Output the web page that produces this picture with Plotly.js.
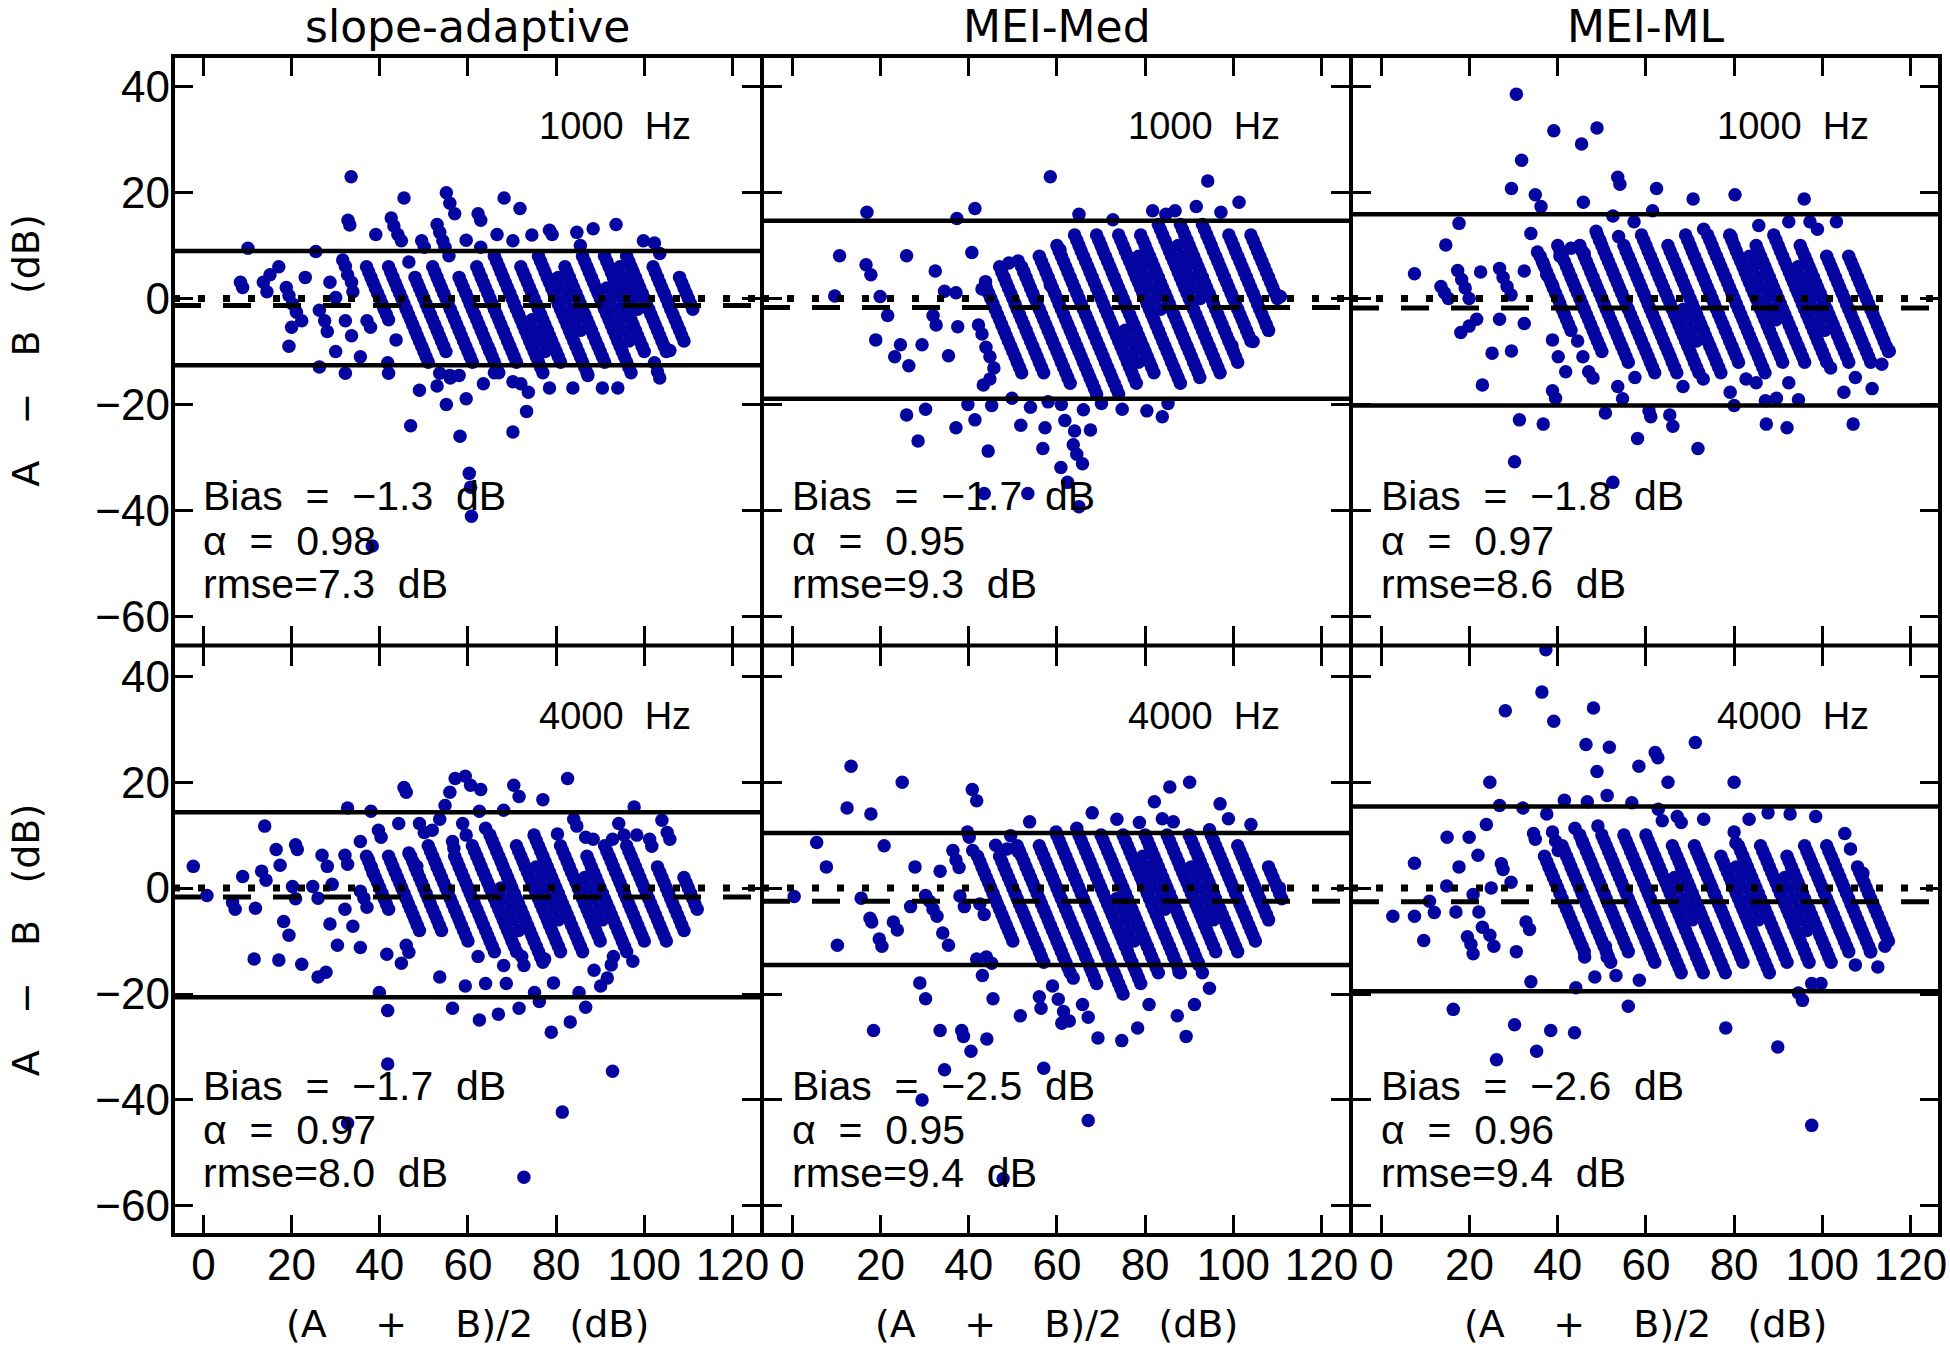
<!DOCTYPE html>
<html><head><meta charset="utf-8">
<script src="https://cdn.plot.ly/plotly-3.0.1.min.js"></script>
<style>html,body{margin:0;padding:0;background:#fff}</style>
</head><body><div id="chart" style="width:1950px;height:1351px"></div>
<script>
const methods = ['slope-adaptive', 'MEI-Med', 'MEI-ML'];
const freqs = ['1000 Hz', '1000 Hz', '1000 Hz', '4000 Hz', '4000 Hz', '4000 Hz'];
const biasVals = [-1.3, -1.7, -1.8, -1.7, -2.5, -2.6];
const alphaVals = [0.98, 0.95, 0.97, 0.97, 0.95, 0.96];
const rmseVals = [7.3, 9.3, 8.6, 8.0, 9.4, 9.4];
const upperLoA = [9.0, 14.7, 15.9, 14.3, 10.4, 15.4];
const lowerLoA = [-12.6, -18.9, -20.2, -20.6, -14.5, -19.5];
const xTicks = [0, 20, 40, 60, 80, 100, 120];
const yTicks = [-60, -40, -20, 0, 20, 40];

// points: [(A+B)/2, A-B]
const slope1000Core = [
[37,6],[38,4],[39,2],[40,0],[41,-2],[42,-4],
[42,6],[43,4],[44,2],[45,0],[46,-2],[47,-4],[48,-6],[49,-8],[50,-10],[51,-12],
[48,4],[49,2],[50,0],[51,-2],[52,-4],[53,-6],[54,-8],[55,-10],
[52,6],[53,4],[54,2],[55,0],[56,-2],[57,-4],[58,-6],[59,-8],[60,-10],[61,-12],
[58,4],[59,2],[60,0],[61,-2],[62,-4],[63,-6],[64,-8],[65,-10],[66,-12],[67,-14],
[62,6],[63,4],[64,2],[65,0],[66,-2],[67,-4],[68,-6],[69,-8],[70,-10],[71,-12],
[66,8],[67,6],[68,4],[69,2],[70,0],[71,-2],[72,-4],[73,-6],[74,-8],[75,-10],[76,-12],[77,-14],
[72,6],[73,4],[74,2],[75,0],[76,-2],[77,-4],[78,-6],[79,-8],[80,-10],[81,-12],
[76,8],[77,6],[78,4],[79,2],[80,0],[81,-2],[82,-4],[83,-6],[84,-8],[85,-10],[86,-12],[87,-14],
[82,6],[83,4],[84,2],[85,0],[86,-2],[87,-4],[88,-6],[89,-8],[90,-10],[91,-12],
[86,8],[87,6],[88,4],[89,2],[90,0],[91,-2],[92,-4],[93,-6],[94,-8],[95,-10],[96,-12],[97,-14],
[91,8],[92,6],[93,4],[94,2],[95,0],[96,-2],[97,-4],[98,-6],[99,-8],[100,-10],
[96,8],[97,6],[98,4],[99,2],[100,0],[101,-2],[102,-4],[103,-6],[104,-8],[105,-10],
[102,6],[103,4],[104,2],[105,0],[106,-2],[107,-4],[108,-6],[109,-8],
[108,4],[109,2],[110,0],[111,-2]
];
const slope1000CoreOdd = [
[37.5,5],[38.5,3],[39.5,1],[40.5,-1],[41.5,-3],
[42.5,5],[43.5,3],[44.5,1],[45.5,-1],[46.5,-3],[47.5,-5],[48.5,-7],[49.5,-9],[50.5,-11],
[48.5,3],[49.5,1],[50.5,-1],[51.5,-3],[52.5,-5],[53.5,-7],[54.5,-9],
[52.5,5],[53.5,3],[54.5,1],[55.5,-1],[56.5,-3],[57.5,-5],[58.5,-7],[59.5,-9],[60.5,-11],
[58.5,3],[59.5,1],[60.5,-1],[61.5,-3],[62.5,-5],[63.5,-7],[64.5,-9],[65.5,-11],[66.5,-13],
[62.5,5],[63.5,3],[64.5,1],[65.5,-1],[66.5,-3],[67.5,-5],[68.5,-7],[69.5,-9],[70.5,-11],
[66.5,7],[67.5,5],[68.5,3],[69.5,1],[70.5,-1],[71.5,-3],[72.5,-5],[73.5,-7],[74.5,-9],[75.5,-11],[76.5,-13],
[72.5,5],[73.5,3],[74.5,1],[75.5,-1],[76.5,-3],[77.5,-5],[78.5,-7],[79.5,-9],[80.5,-11],
[76.5,7],[77.5,5],[78.5,3],[79.5,1],[80.5,-1],[81.5,-3],[82.5,-5],[83.5,-7],[84.5,-9],[85.5,-11],[86.5,-13],
[82.5,5],[83.5,3],[84.5,1],[85.5,-1],[86.5,-3],[87.5,-5],[88.5,-7],[89.5,-9],[90.5,-11],
[86.5,7],[87.5,5],[88.5,3],[89.5,1],[90.5,-1],[91.5,-3],[92.5,-5],[93.5,-7],[94.5,-9],[95.5,-11],[96.5,-13],
[91.5,7],[92.5,5],[93.5,3],[94.5,1],[95.5,-1],[96.5,-3],[97.5,-5],[98.5,-7],[99.5,-9],
[96.5,7],[97.5,5],[98.5,3],[99.5,1],[100.5,-1],[101.5,-3],[102.5,-5],[103.5,-7],[104.5,-9],
[102.5,5],[103.5,3],[104.5,1],[105.5,-1],[106.5,-3],[107.5,-5],[108.5,-7],
[108.5,3],[109.5,1],[110.5,-1],
[80.5,4],[81.5,2],[82.5,0],[83.5,-2],[84.5,-4],[85.5,-6],
[91.5,2],[92.5,0],[93.5,-2],[94.5,-4],[95.5,-6],[96.5,-8],
[94.5,6],[95.5,4],[96.5,2],[97.5,0],[98.5,-2],
[74.5,-4],[75.5,-6],[76.5,-8],[77.5,-10]
];
const slope1000Spread = [
[33.5,23],[32.8,14.8],[33.2,13.9],[45.5,19],[55.1,20],[55.9,18],[57,16],[68.2,19],[71.8,17],[10.1,9.5],
[8.4,3.1],[8.9,2.1],[13.6,3.1],[14.4,1.3],[15.1,4.5],[17.1,6],[18.8,2.1],[19.4,0.6],[20.2,-1],[21.1,-2.6],
[22.3,-4.2],[20,-5.4],[19.4,-9],[23.1,4],[25.5,8.9],[26.3,-2.2],[27.5,-4.2],[28.1,-6.2],[28.7,3.1],[30,0.2],
[31.6,7.3],[32.2,6.1],[32.7,4.5],[33.6,3.1],[33.9,1.3],[32.2,-4.2],[33.6,-7],[30,-10],[26.3,-12.9],[32.2,-14.1],
[35.6,-11],[39.1,12.1],[37.1,-4.2],[37.9,-5.4],[42.6,15.2],[43.2,13.7],[44.1,12.1],[44.9,10.9],[46.6,6.9],[43.7,-7.8],
[42,-14.1],[41.8,-12.1],[49,-17.3],[47,-24],[49.5,10.9],[50.1,9.7],[53,14],[53.6,12.5],[54.3,10.9],[54.8,9.7],
[55.7,8.1],[53,-16.5],[55.1,-20],[58.2,-26],[59.6,-18.9],[60.3,-33],[60.6,-35.6],[60.8,-41.1],[38.3,-46.7],[59.6,11],
[62.3,16],[62.9,14.8],[62.9,9.7],[63.5,-16.1],[64.9,-9.8],[66.6,12.1],[70.2,-25.2],[73.3,-21.3],[70.2,-15.7],[72,-16.1],
[73.7,-17.7],[70.2,10.9],[74.5,12],[78.5,12.9],[79.1,12.1],[84.7,12.5],[85.5,10],[88.4,13.2],[93.6,14],[78.5,-16.9],
[83.8,-16.9],[87.2,-14.5],[90.5,-16.9],[94,-16.9],[99.8,10.9],[102.3,10.5],[103.5,8.5],[102.3,-12.1],[103,-13.8],[103.5,-15],
[105.8,-9.8],[56,-15],[58,-14.5],[66,-14],[53.6,-14.1],[55.9,-14.5]
];

const med1000Core = [
[44,2],[45,0],[46,-2],[47,-4],[48,-6],[49,-8],[50,-10],[51,-12],[52,-14],
[47,6],[48,4],[49,2],[50,0],[51,-2],[52,-4],[53,-6],[54,-8],[55,-10],[56,-12],[57,-14],
[52,6],[53,4],[54,2],[55,0],[56,-2],[57,-4],[58,-6],[59,-8],[60,-10],[61,-12],[62,-14],[63,-16],
[56,8],[57,6],[58,4],[59,2],[60,0],[61,-2],[62,-4],[63,-6],[64,-8],[65,-10],[66,-12],[67,-14],[68,-16],[69,-18],
[60,10],[61,8],[62,6],[63,4],[64,2],[65,0],[66,-2],[67,-4],[68,-6],[69,-8],[70,-10],[71,-12],[72,-14],[73,-16],[74,-18],
[64,12],[65,10],[66,8],[67,6],[68,4],[69,2],[70,0],[71,-2],[72,-4],[73,-6],[74,-8],[75,-10],[76,-12],[77,-14],[78,-16],
[69,12],[70,10],[71,8],[72,6],[73,4],[74,2],[75,0],[76,-2],[77,-4],[78,-6],[79,-8],[80,-10],[81,-12],[82,-14],
[74,12],[75,10],[76,8],[77,6],[78,4],[79,2],[80,0],[81,-2],[82,-4],[83,-6],[84,-8],[85,-10],[86,-12],[87,-14],[88,-16],
[79,12],[80,10],[81,8],[82,6],[83,4],[84,2],[85,0],[86,-2],[87,-4],[88,-6],[89,-8],[90,-10],[91,-12],[92,-14],
[83,14],[84,12],[85,10],[86,8],[87,6],[88,4],[89,2],[90,0],[91,-2],[92,-4],[93,-6],[94,-8],[95,-10],[96,-12],[97,-14],
[88,14],[89,12],[90,10],[91,8],[92,6],[93,4],[94,2],[95,0],[96,-2],[97,-4],[98,-6],[99,-8],[100,-10],[101,-12],
[93,14],[94,12],[95,10],[96,8],[97,6],[98,4],[99,2],[100,0],[101,-2],[102,-4],[103,-6],[104,-8],
[99,12],[100,10],[101,8],[102,6],[103,4],[104,2],[105,0],[106,-2],[107,-4],[108,-6],
[104,12],[105,10],[106,8],[107,6],[108,4],[109,2],[110,0]
];
const med1000CoreOdd = [
[44.5,1],[45.5,-1],[46.5,-3],[47.5,-5],[48.5,-7],[49.5,-9],[50.5,-11],[51.5,-13],
[47.5,5],[48.5,3],[49.5,1],[50.5,-1],[51.5,-3],[52.5,-5],[53.5,-7],[54.5,-9],[55.5,-11],[56.5,-13],
[52.5,5],[53.5,3],[54.5,1],[55.5,-1],[56.5,-3],[57.5,-5],[58.5,-7],[59.5,-9],[60.5,-11],[61.5,-13],[62.5,-15],
[56.5,7],[57.5,5],[58.5,3],[59.5,1],[60.5,-1],[61.5,-3],[62.5,-5],[63.5,-7],[64.5,-9],[65.5,-11],[66.5,-13],[67.5,-15],[68.5,-17],
[60.5,9],[61.5,7],[62.5,5],[63.5,3],[64.5,1],[65.5,-1],[66.5,-3],[67.5,-5],[68.5,-7],[69.5,-9],[70.5,-11],[71.5,-13],[72.5,-15],[73.5,-17],
[64.5,11],[65.5,9],[66.5,7],[67.5,5],[68.5,3],[69.5,1],[70.5,-1],[71.5,-3],[72.5,-5],[73.5,-7],[74.5,-9],[75.5,-11],[76.5,-13],[77.5,-15],
[69.5,11],[70.5,9],[71.5,7],[72.5,5],[73.5,3],[74.5,1],[75.5,-1],[76.5,-3],[77.5,-5],[78.5,-7],[79.5,-9],[80.5,-11],[81.5,-13],
[74.5,11],[75.5,9],[76.5,7],[77.5,5],[78.5,3],[79.5,1],[80.5,-1],[81.5,-3],[82.5,-5],[83.5,-7],[84.5,-9],[85.5,-11],[86.5,-13],[87.5,-15],
[79.5,11],[80.5,9],[81.5,7],[82.5,5],[83.5,3],[84.5,1],[85.5,-1],[86.5,-3],[87.5,-5],[88.5,-7],[89.5,-9],[90.5,-11],[91.5,-13],
[83.5,13],[84.5,11],[85.5,9],[86.5,7],[87.5,5],[88.5,3],[89.5,1],[90.5,-1],[91.5,-3],[92.5,-5],[93.5,-7],[94.5,-9],[95.5,-11],[96.5,-13],
[88.5,13],[89.5,11],[90.5,9],[91.5,7],[92.5,5],[93.5,3],[94.5,1],[95.5,-1],[96.5,-3],[97.5,-5],[98.5,-7],[99.5,-9],[100.5,-11],
[93.5,13],[94.5,11],[95.5,9],[96.5,7],[97.5,5],[98.5,3],[99.5,1],[100.5,-1],[101.5,-3],[102.5,-5],[103.5,-7],
[99.5,11],[100.5,9],[101.5,7],[102.5,5],[103.5,3],[104.5,1],[105.5,-1],[106.5,-3],[107.5,-5],
[104.5,11],[105.5,9],[106.5,7],[107.5,5],[108.5,3],[109.5,1],
[78.5,8],[79.5,6],[80.5,4],[81.5,2],[82.5,0],[83.5,-2],
[87.5,10],[88.5,8],[89.5,6],[90.5,4],[91.5,2],[92.5,0],
[75.5,-6],[76.5,-8],[77.5,-10],[78.5,-12]
];
const med1000Spread = [
[16.9,16.3],[10.7,8.1],[9.6,0.5],[16.7,6.4],[17.8,4.5],[19.9,0.4],[21.6,-3.2],[18.9,-7.8],[25.9,8.1],[23.2,-11],
[24.5,-8.7],[26.4,-12.7],[29.4,-8.7],[32.4,5.2],[31.9,-3.2],[32.6,-5],[35.4,-10.8],[34.5,1.4],[37.1,1.1],[37.3,15.1],
[41.4,17],[40.7,8.7],[37.5,-5.3],[25.9,-22],[30.2,-20.9],[28.5,-26.9],[37.1,-24.4],[39.8,-20],[41.4,-22.9],[44.4,-28.8],
[43.8,3.2],[43,1.8],[42.2,-5],[43,-6.7],[43.9,-9.2],[44.8,-11],[43.3,-16.3],[44.8,-15.2],[45.7,-13.1],[45.2,-20.2],
[49.1,6.7],[51.2,7.1],[52.5,5],[49.8,-18.8],[51.8,-23.9],[56.8,-28.3],[57.3,-24.4],[58.5,23],[58.5,2.5],[60.9,-31.9],
[62.4,-34.7],[63.7,-27.6],[64.5,-29.4],[65.8,-31.2],[65,-39.3],[61.8,-23],[43.5,-36.8],[53.4,-36.8],[60.7,9.2],[65,15.9],
[72.7,14.9],[81.7,16.6],[84.7,15.9],[86.8,16.6],[91.6,17.4],[94.2,22.2],[97.2,16.3],[101.3,18.2],[80.4,-21.2],[83.9,-22.3],
[85.2,-19.8],[74.8,-20.9],[70.1,-19.8],[67.6,-24.8],[92.4,-14.9],[99.7,-8.9],[104.5,-8.1],[107.5,-5],[110.7,0.4],[61,-20],
[66,-21],[58,-19.5],[54,-20.5],[64,-25]
];

const ml1000Core = [
[36,8],[37,6],[38,4],[39,2],[40,0],[41,-2],[42,-4],[43,-6],
[40,10],[41,8],[42,6],[43,4],[44,2],[45,0],[46,-2],[47,-4],[48,-6],[49,-8],[50,-10],
[45,10],[46,8],[47,6],[48,4],[49,2],[50,0],[51,-2],[52,-4],[53,-6],[54,-8],[55,-10],[56,-12],
[49,12],[50,10],[51,8],[52,6],[53,4],[54,2],[55,0],[56,-2],[57,-4],[58,-6],[59,-8],[60,-10],[61,-12],[62,-14],
[55,10],[56,8],[57,6],[58,4],[59,2],[60,0],[61,-2],[62,-4],[63,-6],[64,-8],[65,-10],[66,-12],[67,-14],
[59,12],[60,10],[61,8],[62,6],[63,4],[64,2],[65,0],[66,-2],[67,-4],[68,-6],[69,-8],[70,-10],[71,-12],[72,-14],
[65,10],[66,8],[67,6],[68,4],[69,2],[70,0],[71,-2],[72,-4],[73,-6],[74,-8],[75,-10],[76,-12],[77,-14],
[69,12],[70,10],[71,8],[72,6],[73,4],[74,2],[75,0],[76,-2],[77,-4],[78,-6],[79,-8],[80,-10],[81,-12],
[74,12],[75,10],[76,8],[77,6],[78,4],[79,2],[80,0],[81,-2],[82,-4],[83,-6],[84,-8],[85,-10],[86,-12],[87,-14],
[79,12],[80,10],[81,8],[82,6],[83,4],[84,2],[85,0],[86,-2],[87,-4],[88,-6],[89,-8],[90,-10],[91,-12],
[85,10],[86,8],[87,6],[88,4],[89,2],[90,0],[91,-2],[92,-4],[93,-6],[94,-8],[95,-10],[96,-12],
[89,12],[90,10],[91,8],[92,6],[93,4],[94,2],[95,0],[96,-2],[97,-4],[98,-6],[99,-8],[100,-10],[101,-12],
[95,10],[96,8],[97,6],[98,4],[99,2],[100,0],[101,-2],[102,-4],[103,-6],[104,-8],[105,-10],[106,-12],
[101,8],[102,6],[103,4],[104,2],[105,0],[106,-2],[107,-4],[108,-6],[109,-8],[110,-10],[111,-12],
[106,8],[107,6],[108,4],[109,2],[110,0],[111,-2],[112,-4],[113,-6],[114,-8],[115,-10]
];
const ml1000CoreOdd = [
[36.5,7],[37.5,5],[38.5,3],[39.5,1],[40.5,-1],[41.5,-3],[42.5,-5],
[40.5,9],[41.5,7],[42.5,5],[43.5,3],[44.5,1],[45.5,-1],[46.5,-3],[47.5,-5],[48.5,-7],[49.5,-9],
[45.5,9],[46.5,7],[47.5,5],[48.5,3],[49.5,1],[50.5,-1],[51.5,-3],[52.5,-5],[53.5,-7],[54.5,-9],[55.5,-11],
[49.5,11],[50.5,9],[51.5,7],[52.5,5],[53.5,3],[54.5,1],[55.5,-1],[56.5,-3],[57.5,-5],[58.5,-7],[59.5,-9],[60.5,-11],[61.5,-13],
[55.5,9],[56.5,7],[57.5,5],[58.5,3],[59.5,1],[60.5,-1],[61.5,-3],[62.5,-5],[63.5,-7],[64.5,-9],[65.5,-11],[66.5,-13],
[59.5,11],[60.5,9],[61.5,7],[62.5,5],[63.5,3],[64.5,1],[65.5,-1],[66.5,-3],[67.5,-5],[68.5,-7],[69.5,-9],[70.5,-11],[71.5,-13],
[65.5,9],[66.5,7],[67.5,5],[68.5,3],[69.5,1],[70.5,-1],[71.5,-3],[72.5,-5],[73.5,-7],[74.5,-9],[75.5,-11],[76.5,-13],
[69.5,11],[70.5,9],[71.5,7],[72.5,5],[73.5,3],[74.5,1],[75.5,-1],[76.5,-3],[77.5,-5],[78.5,-7],[79.5,-9],[80.5,-11],
[74.5,11],[75.5,9],[76.5,7],[77.5,5],[78.5,3],[79.5,1],[80.5,-1],[81.5,-3],[82.5,-5],[83.5,-7],[84.5,-9],[85.5,-11],[86.5,-13],
[79.5,11],[80.5,9],[81.5,7],[82.5,5],[83.5,3],[84.5,1],[85.5,-1],[86.5,-3],[87.5,-5],[88.5,-7],[89.5,-9],[90.5,-11],
[85.5,9],[86.5,7],[87.5,5],[88.5,3],[89.5,1],[90.5,-1],[91.5,-3],[92.5,-5],[93.5,-7],[94.5,-9],[95.5,-11],
[89.5,11],[90.5,9],[91.5,7],[92.5,5],[93.5,3],[94.5,1],[95.5,-1],[96.5,-3],[97.5,-5],[98.5,-7],[99.5,-9],[100.5,-11],
[95.5,9],[96.5,7],[97.5,5],[98.5,3],[99.5,1],[100.5,-1],[101.5,-3],[102.5,-5],[103.5,-7],[104.5,-9],[105.5,-11],
[101.5,7],[102.5,5],[103.5,3],[104.5,1],[105.5,-1],[106.5,-3],[107.5,-5],[108.5,-7],[109.5,-9],[110.5,-11],
[106.5,7],[107.5,5],[108.5,3],[109.5,1],[110.5,-1],[111.5,-3],[112.5,-5],[113.5,-7],[114.5,-9],
[83.5,8],[84.5,6],[85.5,4],[86.5,2],[87.5,0],[88.5,-2],[89.5,-4],
[94.5,6],[95.5,4],[96.5,2],[97.5,0],[98.5,-2],[99.5,-4],[100.5,-6],
[68.5,-2],[69.5,-4],[70.5,-6],[71.5,-8]
];
const ml1000Spread = [
[30.6,38.6],[39.1,31.7],[48.9,32.2],[45.4,29.2],[31.8,26.1],[29.5,20.8],[34.9,19.6],[36.2,17.4],[45.8,18.2],[53.6,22.9],
[54.1,21.6],[62.4,20.8],[70.7,18.8],[80.2,19.6],[95.9,18.8],[17.6,14.2],[7.5,4.7],[14.6,10.1],[13.5,2.3],[14.3,1.1],
[15.2,0],[17.3,5.3],[18.2,3.6],[19,2],[19.9,0],[18,-6.4],[19.9,-5.2],[21.6,-3.9],[22.5,5],[25.1,-10.3],
[22.9,-16.3],[26.8,5.7],[27.6,4],[28.5,2.3],[29.4,0.7],[26.8,-3.9],[29.5,-9.9],[32.4,5.2],[32.4,-4.7],[33.9,12.3],
[35.4,8.8],[36.7,6.7],[37.5,4.5],[38.8,2.5],[31.3,-22.9],[36.7,-23.7],[30.2,-30.8],[38.8,-17.4],[39.5,-18.8],[38.8,-7.8],
[40.1,-11],[41.8,-13.8],[45.7,-11],[47,-13.8],[48.7,12.7],[49.5,11],[50.8,-21.6],[52.5,15.6],[53.8,11.7],[57.3,14.5],
[53.6,-16.6],[54.7,-18.9],[57.5,-14.9],[58.1,-26.4],[60.7,-21.2],[61.1,-22.3],[61.5,16.6],[65.4,-22],[66.1,-24.1],[71.8,-28.3],
[52.5,-34.7],[68.4,-16.6],[73,-15.2],[73.1,13.1],[79.3,11.7],[85.6,13.8],[92.4,14.5],[97.2,14.5],[98.9,13.1],[103.2,14.5],
[87.3,-23.7],[92,-24.4],[107,-23.7],[104.9,-17.7],[111.3,-17],[79.1,-17.7],[80,-20.2],[82.7,-15.2],[85,-15.9],[87.1,-19.3],
[89.6,-18.8],[92.4,-15.9],[94.6,-19.1],[101.9,-13.1],[107.5,-14.9],[113.5,-12.4],[115.2,-9.9],[40.5,8],[43,9.5],[46,8.5],
[44.5,-8],[48,-15]
];

const slope4000Core = [
[37,6],[38,4],[39,2],[40,0],[41,-2],[42,-4],
[42,6],[43,4],[44,2],[45,0],[46,-2],[47,-4],[48,-6],[49,-8],
[47,6],[48,4],[49,2],[50,0],[51,-2],[52,-4],[53,-6],[54,-8],
[51,8],[52,6],[53,4],[54,2],[55,0],[56,-2],[57,-4],[58,-6],[59,-8],[60,-10],
[57,6],[58,4],[59,2],[60,0],[61,-2],[62,-4],[63,-6],[64,-8],[65,-10],[66,-12],
[61,8],[62,6],[63,4],[64,2],[65,0],[66,-2],[67,-4],[68,-6],[69,-8],[70,-10],[71,-12],
[65,10],[66,8],[67,6],[68,4],[69,2],[70,0],[71,-2],[72,-4],[73,-6],[74,-8],[75,-10],[76,-12],[77,-14],
[71,8],[72,6],[73,4],[74,2],[75,0],[76,-2],[77,-4],[78,-6],[79,-8],[80,-10],[81,-12],
[75,10],[76,8],[77,6],[78,4],[79,2],[80,0],[81,-2],[82,-4],[83,-6],[84,-8],[85,-10],[86,-12],
[81,8],[82,6],[83,4],[84,2],[85,0],[86,-2],[87,-4],[88,-6],[89,-8],[90,-10],
[87,6],[88,4],[89,2],[90,0],[91,-2],[92,-4],[93,-6],[94,-8],[95,-10],[96,-12],
[91,8],[92,6],[93,4],[94,2],[95,0],[96,-2],[97,-4],[98,-6],[99,-8],[100,-10],
[96,8],[97,6],[98,4],[99,2],[100,0],[101,-2],[102,-4],[103,-6],[104,-8],[105,-10],
[103,4],[104,2],[105,0],[106,-2],[107,-4],[108,-6],[109,-8],
[109,2],[110,0],[111,-2],[112,-4]
];
const slope4000CoreOdd = [
[37.5,5],[38.5,3],[39.5,1],[40.5,-1],[41.5,-3],
[42.5,5],[43.5,3],[44.5,1],[45.5,-1],[46.5,-3],[47.5,-5],[48.5,-7],
[47.5,5],[48.5,3],[49.5,1],[50.5,-1],[51.5,-3],[52.5,-5],[53.5,-7],
[51.5,7],[52.5,5],[53.5,3],[54.5,1],[55.5,-1],[56.5,-3],[57.5,-5],[58.5,-7],[59.5,-9],
[57.5,5],[58.5,3],[59.5,1],[60.5,-1],[61.5,-3],[62.5,-5],[63.5,-7],[64.5,-9],[65.5,-11],
[61.5,7],[62.5,5],[63.5,3],[64.5,1],[65.5,-1],[66.5,-3],[67.5,-5],[68.5,-7],[69.5,-9],[70.5,-11],
[65.5,9],[66.5,7],[67.5,5],[68.5,3],[69.5,1],[70.5,-1],[71.5,-3],[72.5,-5],[73.5,-7],[74.5,-9],[75.5,-11],[76.5,-13],
[71.5,7],[72.5,5],[73.5,3],[74.5,1],[75.5,-1],[76.5,-3],[77.5,-5],[78.5,-7],[79.5,-9],[80.5,-11],
[75.5,9],[76.5,7],[77.5,5],[78.5,3],[79.5,1],[80.5,-1],[81.5,-3],[82.5,-5],[83.5,-7],[84.5,-9],[85.5,-11],
[81.5,7],[82.5,5],[83.5,3],[84.5,1],[85.5,-1],[86.5,-3],[87.5,-5],[88.5,-7],[89.5,-9],
[87.5,5],[88.5,3],[89.5,1],[90.5,-1],[91.5,-3],[92.5,-5],[93.5,-7],[94.5,-9],[95.5,-11],
[91.5,7],[92.5,5],[93.5,3],[94.5,1],[95.5,-1],[96.5,-3],[97.5,-5],[98.5,-7],[99.5,-9],
[96.5,7],[97.5,5],[98.5,3],[99.5,1],[100.5,-1],[101.5,-3],[102.5,-5],[103.5,-7],[104.5,-9],
[103.5,3],[104.5,1],[105.5,-1],[106.5,-3],[107.5,-5],[108.5,-7],
[109.5,1],[110.5,-1],[111.5,-3],
[75.5,4],[76.5,2],[77.5,0],[78.5,-2],[79.5,-4],[80.5,-6],
[86.5,2],[87.5,0],[88.5,-2],[89.5,-4],[90.5,-6],
[67.5,0],[68.5,-2],[69.5,-4],[70.5,-6],[71.5,-8]
];
const slope4000Spread = [
[-2.3,4.1],[0.8,-1.4],[6.6,-2.7],[7.2,-4],[8.9,2.2],[11.8,-3.8],[11.5,-13.4],[13.9,11.7],[13.2,3.2],[14.2,1.5],
[16.5,7.3],[17.4,4.3],[17.1,-13.6],[18.2,-6.3],[19.4,-8.9],[20.2,0.3],[20.9,8.2],[21.3,7.3],[20.9,-2],[22.3,-14.4],
[24.8,0.3],[26,-1.9],[26,-16.8],[27.8,-15.9],[26.9,6.2],[28.1,4.1],[29.2,0.7],[28.7,-6.8],[30.4,-10.8],[32.1,6.2],
[32.7,4.5],[32.7,15.1],[32.1,-4],[33.9,-7.2],[35.6,-11.2],[35.6,8.8],[38,14.5],[37.4,5.4],[38,4.1],[38.5,2.8],
[39.7,10.9],[40.3,9.6],[35.6,-0.6],[36.4,-1.9],[37.1,-3.6],[39.9,-19.7],[41.8,-23.1],[41.8,-33.2],[41.6,-12.5],[44.9,-14.2],
[45.5,19],[46,18.1],[44.3,12.2],[46.6,6.6],[46,-10.8],[46.6,-12.1],[48.4,4.1],[49,12.2],[50.1,10.5],[51.9,10.9],
[53.6,13],[54.8,15.6],[55.9,18.1],[57.1,20.7],[59.4,21.1],[60.6,19.4],[62.9,18.6],[56.5,8.8],[56.8,7.5],[58.8,12.2],
[59.6,10],[53.6,-16.8],[56.5,-22.7],[59.4,-18.5],[62.3,-12.9],[62.6,-24.9],[64,-18],[66.9,-23.8],[68.7,-18],[68.1,-14.6],
[70.4,19.4],[71.6,17.3],[68.1,14.7],[62.6,14.5],[64,11.3],[71.6,-22.7],[72.2,-12.9],[72.7,-14.6],[75.1,-19.7],[76.2,-21.4],
[77,16.7],[77.4,-13.4],[79.4,-17.9],[78.9,-27.2],[80.3,10.2],[82.6,20.7],[83.2,-25.3],[84,13],[84.7,11.7],[85.2,-19.7],
[86.7,-22.5],[88.6,-15.5],[90.1,-18.5],[91.6,-17],[86.7,9.6],[88.4,9.2],[92.8,-34.6],[81.4,-42.3],[72.7,-54.6],[32.7,-44.4],
[92.8,9.2],[94.2,12.2],[95.4,10],[97.7,15.3],[98.3,10],[93,-12.9],[92.5,-14.5],[97.4,-13.8],[101.2,9.2],[101.7,7.9],
[104,12.8],[105.2,10.5],[105.8,9.2]
];

const med4000Core = [
[42,6],[43,4],[44,2],[45,0],[46,-2],[47,-4],[48,-6],[49,-8],[50,-10],
[47,6],[48,4],[49,2],[50,0],[51,-2],[52,-4],[53,-6],[54,-8],[55,-10],[56,-12],[57,-14],
[51,8],[52,6],[53,4],[54,2],[55,0],[56,-2],[57,-4],[58,-6],[59,-8],[60,-10],[61,-12],[62,-14],[63,-16],
[56,8],[57,6],[58,4],[59,2],[60,0],[61,-2],[62,-4],[63,-6],[64,-8],[65,-10],[66,-12],[67,-14],[68,-16],[69,-18],
[60,10],[61,8],[62,6],[63,4],[64,2],[65,0],[66,-2],[67,-4],[68,-6],[69,-8],[70,-10],[71,-12],[72,-14],[73,-16],[74,-18],[75,-20],
[65,10],[66,8],[67,6],[68,4],[69,2],[70,0],[71,-2],[72,-4],[73,-6],[74,-8],[75,-10],[76,-12],[77,-14],[78,-16],[79,-18],
[70,10],[71,8],[72,6],[73,4],[74,2],[75,0],[76,-2],[77,-4],[78,-6],[79,-8],[80,-10],[81,-12],[82,-14],[83,-16],
[75,10],[76,8],[77,6],[78,4],[79,2],[80,0],[81,-2],[82,-4],[83,-6],[84,-8],[85,-10],[86,-12],[87,-14],[88,-16],
[80,10],[81,8],[82,6],[83,4],[84,2],[85,0],[86,-2],[87,-4],[88,-6],[89,-8],[90,-10],[91,-12],[92,-14],
[85,10],[86,8],[87,6],[88,4],[89,2],[90,0],[91,-2],[92,-4],[93,-6],[94,-8],[95,-10],[96,-12],
[90,10],[91,8],[92,6],[93,4],[94,2],[95,0],[96,-2],[97,-4],[98,-6],[99,-8],[100,-10],[101,-12],
[95,10],[96,8],[97,6],[98,4],[99,2],[100,0],[101,-2],[102,-4],[103,-6],[104,-8],[105,-10],
[101,8],[102,6],[103,4],[104,2],[105,0],[106,-2],[107,-4],[108,-6],
[108,4],[109,2],[110,0],[111,-2]
];
const med4000CoreOdd = [
[42.5,5],[43.5,3],[44.5,1],[45.5,-1],[46.5,-3],[47.5,-5],[48.5,-7],[49.5,-9],
[47.5,5],[48.5,3],[49.5,1],[50.5,-1],[51.5,-3],[52.5,-5],[53.5,-7],[54.5,-9],[55.5,-11],[56.5,-13],
[51.5,7],[52.5,5],[53.5,3],[54.5,1],[55.5,-1],[56.5,-3],[57.5,-5],[58.5,-7],[59.5,-9],[60.5,-11],[61.5,-13],[62.5,-15],
[56.5,7],[57.5,5],[58.5,3],[59.5,1],[60.5,-1],[61.5,-3],[62.5,-5],[63.5,-7],[64.5,-9],[65.5,-11],[66.5,-13],[67.5,-15],[68.5,-17],
[60.5,9],[61.5,7],[62.5,5],[63.5,3],[64.5,1],[65.5,-1],[66.5,-3],[67.5,-5],[68.5,-7],[69.5,-9],[70.5,-11],[71.5,-13],[72.5,-15],[73.5,-17],[74.5,-19],
[65.5,9],[66.5,7],[67.5,5],[68.5,3],[69.5,1],[70.5,-1],[71.5,-3],[72.5,-5],[73.5,-7],[74.5,-9],[75.5,-11],[76.5,-13],[77.5,-15],[78.5,-17],
[70.5,9],[71.5,7],[72.5,5],[73.5,3],[74.5,1],[75.5,-1],[76.5,-3],[77.5,-5],[78.5,-7],[79.5,-9],[80.5,-11],[81.5,-13],[82.5,-15],
[75.5,9],[76.5,7],[77.5,5],[78.5,3],[79.5,1],[80.5,-1],[81.5,-3],[82.5,-5],[83.5,-7],[84.5,-9],[85.5,-11],[86.5,-13],[87.5,-15],
[80.5,9],[81.5,7],[82.5,5],[83.5,3],[84.5,1],[85.5,-1],[86.5,-3],[87.5,-5],[88.5,-7],[89.5,-9],[90.5,-11],[91.5,-13],
[85.5,9],[86.5,7],[87.5,5],[88.5,3],[89.5,1],[90.5,-1],[91.5,-3],[92.5,-5],[93.5,-7],[94.5,-9],[95.5,-11],
[90.5,9],[91.5,7],[92.5,5],[93.5,3],[94.5,1],[95.5,-1],[96.5,-3],[97.5,-5],[98.5,-7],[99.5,-9],[100.5,-11],
[95.5,9],[96.5,7],[97.5,5],[98.5,3],[99.5,1],[100.5,-1],[101.5,-3],[102.5,-5],[103.5,-7],[104.5,-9],
[101.5,7],[102.5,5],[103.5,3],[104.5,1],[105.5,-1],[106.5,-3],[107.5,-5],
[108.5,3],[109.5,1],[110.5,-1],
[79.5,6],[80.5,4],[81.5,2],[82.5,0],[83.5,-2],[84.5,-4],
[90.5,4],[91.5,2],[92.5,0],[93.5,-2],[94.5,-4],[95.5,-6],
[73.5,-2],[74.5,-4],[75.5,-6],[76.5,-8],[77.5,-10]
];
const med4000Spread = [
[13.3,23],[12.4,15.1],[17.8,14],[24.9,20],[5.5,8.6],[7.7,4],[0.4,-1.6],[15.6,-1.9],[20.8,8],[17.6,-5.7],
[18,-6.4],[19.7,-9.6],[20.3,-11],[10.2,-10.8],[22.9,-6.4],[23.8,-7.9],[26.8,-3.5],[27.8,4],[30.2,-1.4],[31.1,-2.5],
[31.9,-4],[32.8,-5.3],[34.1,-8.5],[35.4,-10.8],[33.5,3.2],[36.4,7.1],[37.1,5.3],[37.8,3.9],[39.7,10.6],[40.1,9.6],
[40.9,7.1],[40.8,18.6],[41.8,16.5],[28.9,-17.9],[30.2,-20.9],[18.4,-26.9],[33.5,-26.9],[38.4,-26.9],[38.8,-28],[40.5,-30.8],
[44.1,-28.5],[34.5,-34.3],[29.4,-40],[47.8,-54.9],[57,-34],[67.1,-43.9],[45.5,-20.9],[43.1,-16.5],[41.8,-13.4],[44,-13],
[45.2,-14.2],[51.7,-24.1],[56,-20.5],[56.4,-22.7],[61.1,-25.5],[62.8,-25.1],[59,-18.5],[60.3,-21],[61.5,-23.3],[63.7,-17],
[65.8,-22],[67.1,-24.4],[69.3,-28.3],[74.7,-28.8],[78.3,-26.4],[80.9,-22],[87.3,-24.1],[89.3,-28],[91.2,-22],[94.6,-18.9],
[93,-16],[92.2,-14.5],[87.7,-15.9],[53.8,12.5],[49.5,9.9],[46.1,8.1],[48.7,7.4],[51.2,6.9],[59.8,10.6],[64.5,11.3],
[68,14.2],[73.6,13],[78.7,12.4],[82.1,16.3],[85.6,19.1],[90.1,20],[83.9,13.1],[86.4,12.5],[94.6,11],[97,15.9],
[98.9,13.1],[104,12],[110.5,0],[107.5,-5],[42.5,-3],[43.5,-5],[38,-1.5],[39,-3.5]
];

const ml4000Core = [
[37,6],[38,4],[39,2],[40,0],[41,-2],[42,-4],[43,-6],[44,-8],[45,-10],[46,-12],
[41,8],[42,6],[43,4],[44,2],[45,0],[46,-2],[47,-4],[48,-6],[49,-8],[50,-10],[51,-12],[52,-14],
[45,10],[46,8],[47,6],[48,4],[49,2],[50,0],[51,-2],[52,-4],[53,-6],[54,-8],[55,-10],[56,-12],
[50,10],[51,8],[52,6],[53,4],[54,2],[55,0],[56,-2],[57,-4],[58,-6],[59,-8],[60,-10],[61,-12],[62,-14],
[55,10],[56,8],[57,6],[58,4],[59,2],[60,0],[61,-2],[62,-4],[63,-6],[64,-8],[65,-10],[66,-12],[67,-14],[68,-16],
[60,10],[61,8],[62,6],[63,4],[64,2],[65,0],[66,-2],[67,-4],[68,-6],[69,-8],[70,-10],[71,-12],[72,-14],[73,-16],
[66,8],[67,6],[68,4],[69,2],[70,0],[71,-2],[72,-4],[73,-6],[74,-8],[75,-10],[76,-12],[77,-14],[78,-16],
[71,8],[72,6],[73,4],[74,2],[75,0],[76,-2],[77,-4],[78,-6],[79,-8],[80,-10],[81,-12],[82,-14],
[77,6],[78,4],[79,2],[80,0],[81,-2],[82,-4],[83,-6],[84,-8],[85,-10],[86,-12],[87,-14],[88,-16],
[81,8],[82,6],[83,4],[84,2],[85,0],[86,-2],[87,-4],[88,-6],[89,-8],[90,-10],[91,-12],[92,-14],
[86,8],[87,6],[88,4],[89,2],[90,0],[91,-2],[92,-4],[93,-6],[94,-8],[95,-10],[96,-12],[97,-14],
[92,6],[93,4],[94,2],[95,0],[96,-2],[97,-4],[98,-6],[99,-8],[100,-10],[101,-12],[102,-14],
[96,8],[97,6],[98,4],[99,2],[100,0],[101,-2],[102,-4],[103,-6],[104,-8],[105,-10],[106,-12],
[101,8],[102,6],[103,4],[104,2],[105,0],[106,-2],[107,-4],[108,-6],[109,-8],[110,-10],[111,-12],
[108,4],[109,2],[110,0],[111,-2],[112,-4],[113,-6],[114,-8],[115,-10]
];
const ml4000CoreOdd = [
[37.5,5],[38.5,3],[39.5,1],[40.5,-1],[41.5,-3],[42.5,-5],[43.5,-7],[44.5,-9],[45.5,-11],
[41.5,7],[42.5,5],[43.5,3],[44.5,1],[45.5,-1],[46.5,-3],[47.5,-5],[48.5,-7],[49.5,-9],[50.5,-11],[51.5,-13],
[45.5,9],[46.5,7],[47.5,5],[48.5,3],[49.5,1],[50.5,-1],[51.5,-3],[52.5,-5],[53.5,-7],[54.5,-9],[55.5,-11],
[50.5,9],[51.5,7],[52.5,5],[53.5,3],[54.5,1],[55.5,-1],[56.5,-3],[57.5,-5],[58.5,-7],[59.5,-9],[60.5,-11],[61.5,-13],
[55.5,9],[56.5,7],[57.5,5],[58.5,3],[59.5,1],[60.5,-1],[61.5,-3],[62.5,-5],[63.5,-7],[64.5,-9],[65.5,-11],[66.5,-13],[67.5,-15],
[60.5,9],[61.5,7],[62.5,5],[63.5,3],[64.5,1],[65.5,-1],[66.5,-3],[67.5,-5],[68.5,-7],[69.5,-9],[70.5,-11],[71.5,-13],[72.5,-15],
[66.5,7],[67.5,5],[68.5,3],[69.5,1],[70.5,-1],[71.5,-3],[72.5,-5],[73.5,-7],[74.5,-9],[75.5,-11],[76.5,-13],[77.5,-15],
[71.5,7],[72.5,5],[73.5,3],[74.5,1],[75.5,-1],[76.5,-3],[77.5,-5],[78.5,-7],[79.5,-9],[80.5,-11],[81.5,-13],
[77.5,5],[78.5,3],[79.5,1],[80.5,-1],[81.5,-3],[82.5,-5],[83.5,-7],[84.5,-9],[85.5,-11],[86.5,-13],[87.5,-15],
[81.5,7],[82.5,5],[83.5,3],[84.5,1],[85.5,-1],[86.5,-3],[87.5,-5],[88.5,-7],[89.5,-9],[90.5,-11],[91.5,-13],
[86.5,7],[87.5,5],[88.5,3],[89.5,1],[90.5,-1],[91.5,-3],[92.5,-5],[93.5,-7],[94.5,-9],[95.5,-11],[96.5,-13],
[92.5,5],[93.5,3],[94.5,1],[95.5,-1],[96.5,-3],[97.5,-5],[98.5,-7],[99.5,-9],[100.5,-11],[101.5,-13],
[96.5,7],[97.5,5],[98.5,3],[99.5,1],[100.5,-1],[101.5,-3],[102.5,-5],[103.5,-7],[104.5,-9],[105.5,-11],
[101.5,7],[102.5,5],[103.5,3],[104.5,1],[105.5,-1],[106.5,-3],[107.5,-5],[108.5,-7],[109.5,-9],[110.5,-11],
[108.5,3],[109.5,1],[110.5,-1],[111.5,-3],[112.5,-5],[113.5,-7],[114.5,-9],
[80.5,4],[81.5,2],[82.5,0],[83.5,-2],[84.5,-4],[85.5,-6],
[91.5,2],[92.5,0],[93.5,-2],[94.5,-4],[95.5,-6],[96.5,-8],
[66.5,2],[67.5,0],[68.5,-2],[69.5,-4],[70.5,-6]
];
const ml4000Spread = [
[37.3,45],[36.4,37],[28.1,33.5],[39.1,31.5],[48.1,34],[46.4,27.1],[51.7,26.6],[48.9,22],[24.6,20],[58.4,23],
[62.1,25.6],[62.7,24.6],[65,20],[71.2,27.5],[80,20],[41.5,16.6],[46.7,16.3],[51.2,17.5],[56.8,16.1],[62.8,14.9],
[26.8,15.6],[32.1,15.1],[37.5,14],[23.8,12],[14.9,9.6],[19.9,9.6],[21.9,6.2],[17.6,4],[7.5,4.7],[14.8,0.4],
[10.9,-2.5],[12,-4.6],[2.6,-5.3],[7.5,-5.3],[9.6,-9.9],[16.9,-4.5],[20.8,-1.2],[22.1,-4.5],[19.5,-9.2],[20.3,-10.6],
[20.8,-12.4],[22.9,-7.4],[24.6,-8.9],[25.5,-11],[24.9,0],[27.2,4.6],[27.6,3.5],[29.4,1.1],[30.6,-12],[32.8,-6.4],
[33.6,-7.8],[34.5,10.3],[34.9,9.2],[33.9,-17.7],[16.3,-22.9],[30.2,-25.8],[38.4,-26.9],[43.8,-27.3],[35.2,-30.8],[26.1,-32.4],
[44.1,-18.8],[48.4,-16.8],[53.2,-16.5],[56,-22.3],[58.5,-17.4],[46.1,-13],[50.8,-11],[51.2,-13],[78.1,-26.4],[89.9,-30],
[97.6,-44.8],[95.5,-21.2],[94.6,-19.8],[97.6,-18],[99.7,-18],[107.5,-14.5],[112.6,-14.9],[114.2,-11],[110.9,-12],[83.4,13],
[87.7,14.2],[92.7,14],[98.5,13.5],[105.1,10.3],[106.4,7.4],[109.2,2.8],[80,10.6],[80.4,8.5],[73.1,13],[67.1,13.5],
[68,12.4],[63.7,12.7],[43.9,11.3],[45.7,8.5],[49.1,11.7],[38.8,10.6],[39.5,8.9],[40.1,7.1]
];

const panelPoints = [
  slope1000Core.concat(slope1000CoreOdd, slope1000Spread),
  med1000Core.concat(med1000CoreOdd, med1000Spread),
  ml1000Core.concat(ml1000CoreOdd, ml1000Spread),
  slope4000Core.concat(slope4000CoreOdd, slope4000Spread),
  med4000Core.concat(med4000CoreOdd, med4000Spread),
  ml4000Core.concat(ml4000CoreOdd, ml4000Spread)
];

const NB = '\u00a0';
const LIB = 'Liberation Sans';
const DJV = 'DejaVu Sans';
const fmt = v => (v < 0 ? '\u2212' : '') + Math.abs(v).toFixed(1);
const traces = [], shapes = [], annotations = [];
const layout = {
  width: 1950, height: 1351,
  margin: {l: 173, r: 10, t: 56, b: 116},
  paper_bgcolor: '#fff', plot_bgcolor: '#fff',
  showlegend: false,
  font: {family: LIB, size: 36, color: '#000'}
};
for (let i = 0; i < 6; i++) {
  const s = i === 0 ? '' : String(i + 1);
  const col = i % 3, row = Math.floor(i / 3);
  const pts = panelPoints[i];
  traces.push({
    type: 'scatter', mode: 'markers', xaxis: 'x' + s, yaxis: 'y' + s,
    x: pts.map(p => p[0]), y: pts.map(p => p[1]),
    marker: {size: 13.5, color: '#0404a0'}, hoverinfo: 'skip'
  });
  const axCommon = {
    showline: false, mirror: 'ticks',
    ticks: 'inside', ticklen: 20, tickwidth: 3, tickcolor: '#000',
    showgrid: false, zeroline: false, fixedrange: true,
    tickfont: {family: LIB, size: 44, color: '#000'}
  };
  layout['xaxis' + s] = Object.assign({}, axCommon, {
    domain: [col / 3, (col + 1) / 3], anchor: 'y' + s,
    range: [-6.9, 126.7], tickmode: 'array', tickvals: xTicks,
    ticktext: xTicks.map(String), showticklabels: row === 1, ticklabelstandoff: 0
  });
  layout['yaxis' + s] = Object.assign({}, axCommon, {
    domain: row === 0 ? [0.5, 1] : [0, 0.5], anchor: 'x' + s,
    range: [-65.5, 45.8], tickmode: 'array', tickvals: yTicks,
    ticktext: yTicks.map(v => (v < 0 ? '\u2212' : '') + Math.abs(v)),
    showticklabels: col === 0, ticklabelstandoff: 2
  });
  const xd = 'x' + s + ' domain', yr = 'y' + s;
  shapes.push({type: 'line', xref: xd, yref: yr, x0: 0, x1: 1, y0: 0, y1: 0,
    line: {color: '#000', width: 7, dash: '7px,18px'}});
  shapes.push({type: 'line', xref: xd, yref: yr, x0: 0, x1: 1, y0: biasVals[i], y1: biasVals[i],
    line: {color: '#000', width: 5, dash: '28px,22px'}});
  shapes.push({type: 'line', xref: xd, yref: yr, x0: 0, x1: 1, y0: upperLoA[i], y1: upperLoA[i],
    line: {color: '#000', width: 4.5}});
  shapes.push({type: 'line', xref: xd, yref: yr, x0: 0, x1: 1, y0: lowerLoA[i], y1: lowerLoA[i],
    line: {color: '#000', width: 4.5}});
  annotations.push({xref: 'x' + s, yref: yr, x: 111, y: 32.5, xanchor: 'right', yanchor: 'middle',
    text: freqs[i].replace(' ', NB + NB), showarrow: false, font: {family: LIB, size: 38}});
  const stats = [
    'Bias' + NB + NB + '=' + NB + NB + fmt(biasVals[i]) + NB + NB + 'dB',
    '\u03b1' + NB + NB + '=' + NB + NB + alphaVals[i].toFixed(2),
    'rmse=' + rmseVals[i].toFixed(1) + NB + NB + 'dB'
  ];
  const sy = [-37.3, -45.7, -53.8];
  stats.forEach((t, k) => annotations.push({xref: 'x' + s, yref: yr, x: -0.5, y: sy[k],
    xanchor: 'left', yanchor: 'middle', text: t, showarrow: false, font: {family: LIB, size: 41}}));
}
// panel frames
shapes.push({type: 'rect', xref: 'paper', yref: 'paper', x0: 0, x1: 1, y0: 0, y1: 1,
  line: {color: '#000', width: 4}, fillcolor: 'rgba(0,0,0,0)'});
[1 / 3, 2 / 3].forEach(x => shapes.push({type: 'line', xref: 'paper', yref: 'paper', x0: x, x1: x, y0: 0, y1: 1,
  line: {color: '#000', width: 4}}));
shapes.push({type: 'line', xref: 'paper', yref: 'paper', x0: 0, x1: 1, y0: 0.5, y1: 0.5,
  line: {color: '#000', width: 4}});

methods.forEach((m, c) => annotations.push({xref: 'paper', yref: 'paper', x: (c + 0.5) / 3, y: 1.0254,
  xanchor: 'center', yanchor: 'middle', text: m, showarrow: false, font: {family: DJV, size: 44}}));
[0.75, 0.25].forEach(y => annotations.push({xref: 'paper', yref: 'paper', x: -0.0832, y: y,
  xanchor: 'center', yanchor: 'middle', textangle: -90, showarrow: false, font: {family: DJV, size: 38},
  text: 'A' + NB + NB + NB + '\u2212' + NB + NB + NB + 'B' + NB + NB + NB + '(dB)'}));
[0, 1, 2].forEach(c => annotations.push({xref: 'paper', yref: 'paper', x: (c + 0.5) / 3, y: -0.0755,
  xanchor: 'center', yanchor: 'middle', showarrow: false, font: {family: DJV, size: 38},
  text: '(A' + NB + NB + NB + NB + '+' + NB + NB + NB + NB + 'B)/2' + NB + NB + NB + '(dB)'}));
layout.shapes = shapes;
layout.annotations = annotations;
Plotly.newPlot('chart', traces, layout, {staticPlot: true, displayModeBar: false});
</script></body></html>
